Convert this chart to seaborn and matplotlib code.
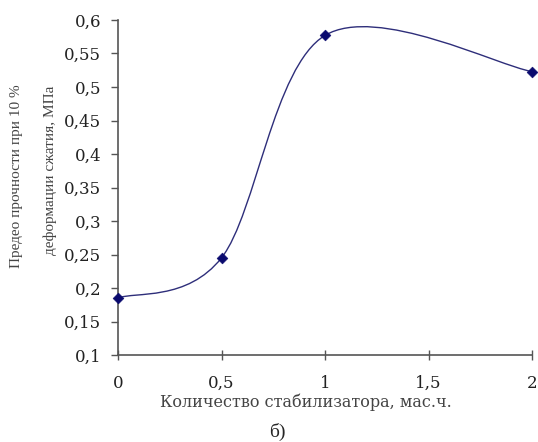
import numpy as np
import matplotlib
matplotlib.use('Agg')
import matplotlib.pyplot as plt
from matplotlib.path import Path
from matplotlib.patches import PathPatch
import seaborn as sns
import pandas as pd

# data
stabilizer = [0, 0.5, 1, 2]
strength = [0.185, 0.245, 0.577, 0.523]
x_ticks = [0, 0.5, 1, 1.5, 2]
x_labels = ['0', '0,5', '1', '1,5', '2']
y_ticks = [0.1, 0.15, 0.2, 0.25, 0.3, 0.35, 0.4, 0.45, 0.5, 0.55, 0.6]
y_labels = ['0,1', '0,15', '0,2', '0,25', '0,3', '0,35', '0,4', '0,45', '0,5', '0,55', '0,6']

df = pd.DataFrame({'x': stabilizer, 'y': strength})

sns.set_style('ticks')
plt.rcParams['font.family'] = ['DejaVu Serif']

fig = plt.figure(figsize=(5.38, 4.42), dpi=100)
ax = fig.add_axes([118 / 538, 1 - 355 / 442, 414 / 538, 335 / 442])

# smoothed line like a spreadsheet "smooth line" (cubic bezier through the points)
pts = np.column_stack([stabilizer, strength])
n = len(pts)
verts = [pts[0]]
codes = [Path.MOVETO]
for i in range(n - 1):
    p_prev = pts[i - 1] if i > 0 else pts[i]
    p_next = pts[i + 2] if i + 2 < n else pts[i + 1]
    c1 = pts[i] + (pts[i + 1] - p_prev) / 6
    c2 = pts[i + 1] - (p_next - pts[i]) / 6
    verts += [c1, c2, pts[i + 1]]
    codes += [Path.CURVE4] * 3
ax.add_patch(PathPatch(Path(verts, codes), fill=False, edgecolor='#2e2e7a',
                       lw=1.0, zorder=2))

sns.scatterplot(data=df, x='x', y='y', ax=ax, marker='D', s=30,
                color='#0a0a6e', edgecolor='#0a0a6e', zorder=3, clip_on=False)

ax.set_xlim(0, 2)
ax.set_ylim(0.1, 0.6)
ax.set_xticks(x_ticks)
ax.set_xticklabels(x_labels)
ax.set_yticks(y_ticks)
ax.set_yticklabels(y_labels)
ax.tick_params(axis='y', direction='out', length=5, width=1, color='#555555',
               labelsize=12, pad=7, labelcolor='#222222')
ax.tick_params(axis='x', direction='inout', length=7, width=1, color='#555555',
               labelsize=12, pad=11, labelcolor='#222222')
for side in ['top', 'right']:
    ax.spines[side].set_visible(False)
for side in ['left', 'bottom']:
    ax.spines[side].set_color('#555555')
    ax.spines[side].set_linewidth(1.2)

ax.set_xlabel('Количество стабилизатора, мас.ч.', fontsize=11.5, color='#444444')
ax.xaxis.set_label_coords((306 - 118) / 414, -(402 - 355) / 335)
ax.xaxis.label.set_va('center')
ax.set_ylabel('')

fig.text(17 / 538, 1 - 176 / 442, 'Предео прочности при 10 %',
         rotation=90, ha='center', va='center', fontsize=11,
         family='Liberation Serif', color='#444444')
fig.text(50 / 538, 1 - 170 / 442, 'деформации сжатия, МПа',
         rotation=90, ha='center', va='center', fontsize=11,
         family='Liberation Serif', color='#444444')
fig.text(277 / 538, 1 - 432 / 442, 'б)', ha='center', va='center', fontsize=14,
         family='Liberation Serif')

plt.savefig('out.png', dpi=100)
